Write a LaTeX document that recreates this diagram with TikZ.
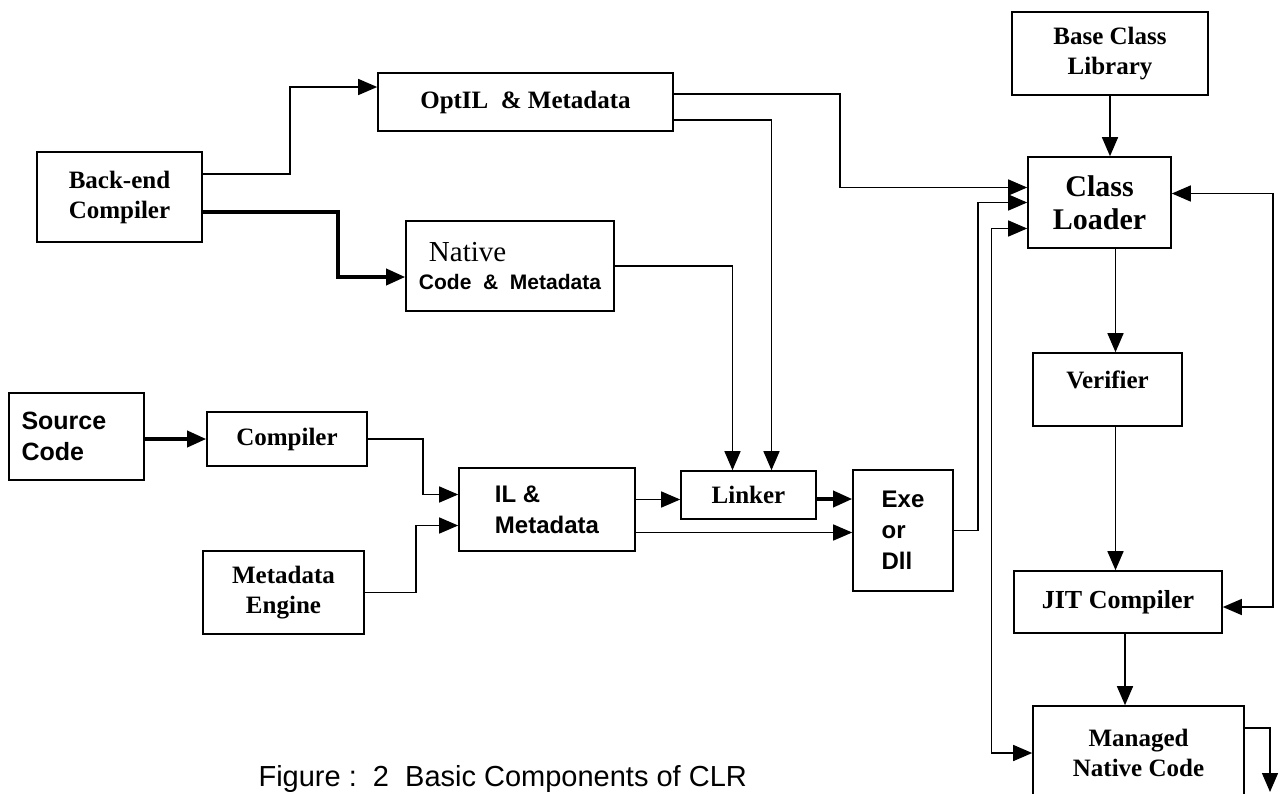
\documentclass[tikz,border=0pt]{standalone}
\usepackage{fontspec}
\setmainfont{Liberation Serif}
\setsansfont{Liberation Sans}
\usetikzlibrary{arrows.meta}

\begin{document}
\begin{tikzpicture}[x=1pt,y=-1pt,>={Triangle[length=19pt,width=16pt]},
    blk/.style={draw,line width=1.6pt,inner sep=0pt},
    tnr/.style={font=\fontsize{25}{30}\selectfont\bfseries,align=center},
    arl/.style={font=\sffamily\fontsize{24}{31}\selectfont\bfseries,align=left},
    flow/.style={line width=1.4pt},
    heavy/.style={line width=3.6pt}]
  \useasboundingbox (0,0) rectangle (1287,793);
  \clip (0,0) rectangle (1287,793);

  % compile side
  \node[blk,tnr,minimum width=165pt,minimum height=90pt] (be) at (119.5,197) {Back-end\\Compiler};
  \node[blk,tnr,minimum width=295pt,minimum height=58pt] (opt) at (525.5,102) {OptIL \ \& Metadata};
  \node[blk,minimum width=208pt,minimum height=90pt,align=left,
    font=\sffamily\fontsize{21}{28}\selectfont\bfseries] (nat) at (510,266)
    {\hspace{10pt}{\rmfamily\mdseries\fontsize{29}{29}\selectfont Native}\\Code \ \& \ Metadata};
  \node[blk,arl,font=\sffamily\fontsize{25}{31}\selectfont\bfseries,text width=110pt,
    minimum width=135pt,minimum height=87pt] (src) at (76.5,436.5) {Source\\Code};
  \node[blk,tnr,minimum width=160pt,minimum height=54pt] (comp) at (287,439) {Compiler};
  \node[blk,tnr,minimum width=161pt,minimum height=83pt] (me) at (283.5,592.5) {Metadata\\Engine};
  \node[blk,arl,minimum width=176pt,minimum height=83pt] (il) at (547,509.5) {IL \&\\Metadata};
  \node[blk,tnr,minimum width=135pt,minimum height=48pt] (lnk) at (748.5,495) {Linker};
  \node[blk,arl,minimum width=100pt,minimum height=121pt] (exe) at (903,530.5) {Exe\\or\\Dll};

  % runtime side
  \node[blk,tnr,minimum width=196pt,minimum height=83pt] (bcl) at (1110,53.5) {Base Class\\Library};
  \node[blk,tnr,font=\fontsize{30}{33}\selectfont\bfseries,minimum width=143pt,
    minimum height=91pt] (cl) at (1099.5,202.5) {Class\\Loader};
  \node[blk,tnr,text depth=19pt,minimum width=149pt,minimum height=73pt] (ver) at (1107.5,389.5) {Verifier};
  \node[blk,tnr,font=\fontsize{26}{30}\selectfont\bfseries,minimum width=208pt,
    minimum height=62pt] (jit) at (1118,602) {JIT Compiler};
  \node[blk,tnr,minimum width=211pt,minimum height=94pt] (mnc) at (1138.5,753) {Managed\\Native Code};
  \coordinate (out) at (1270,792);

  \node[anchor=base west,font=\sffamily\fontsize{29}{34}\selectfont] (cap) at (255,786)
    {Figure :\ \ 2\ \ Basic Components of CLR};

  \draw[flow,->] ([yshift=23pt]be.east) -- ++(87,0) |- ([yshift=15pt]opt.west);
  \draw[heavy,->] ([yshift=-15pt]be.east) -- ++(135,0) |- ([yshift=-11pt]nat.west);
  \draw[flow,->] ([yshift=8pt]opt.east) -- ++(166,0) |- ([yshift=15pt]cl.west);
  \draw[flow,->] ([yshift=-18pt]opt.east) -| ([xshift=23pt]lnk.north);
  \draw[flow,->] (nat.east) -| ([xshift=-16pt]lnk.north);
  \draw[heavy,->] (src.east |- comp.west) -- (comp.west);
  \draw[flow,->] (comp.east) -- ++(55,0) |- ([yshift=15pt]il.west);
  \draw[flow,->] (me.east) -- ++(51,0) |- ([yshift=-16pt]il.west);
  \draw[flow,->] ([yshift=10pt]il.east) -- ([yshift=10pt]il.east -| lnk.west);
  \draw[flow,->] ([yshift=-23pt]il.east) -- ([yshift=-23pt]il.east -| exe.west);
  \draw[heavy,->] ([yshift=-4pt]lnk.east) -- ([yshift=-4pt]lnk.east -| exe.west);
  \draw[flow,->] (exe.east) -- ++(24,0) |- (cl.west);
  \draw[flow,<->] ([yshift=-26pt]cl.west) -- ++(-36,0) |- (mnc.west);
  \draw[flow,->] (bcl.south) -- (bcl.south |- cl.north);
  \draw[flow,->] ([xshift=8pt]ver.north |- cl.south) -- ([xshift=8pt]ver.north);
  \draw[flow,->] ([xshift=8pt]ver.south) -- ([xshift=8pt]ver.south |- jit.north);
  \draw[flow,->] ([xshift=7pt]jit.south) -- ([xshift=7pt]jit.south |- mnc.north);
  \draw[flow,<->] ([yshift=9pt]cl.east) -- ++(101,0) |- ([yshift=-5pt]jit.east);
  \draw[flow,->] ([yshift=25pt]mnc.east) -| (out);
\end{tikzpicture}
\end{document}
